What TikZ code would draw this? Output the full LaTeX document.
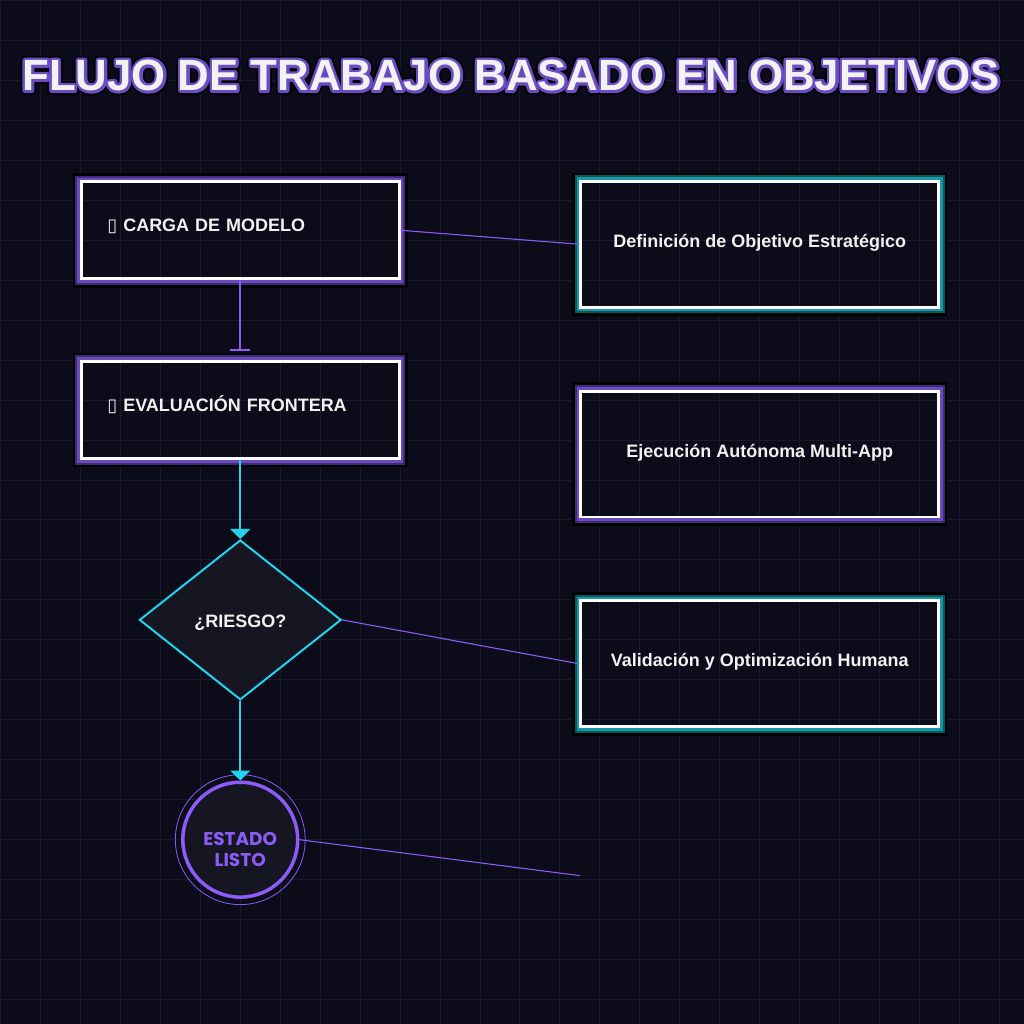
\documentclass[tikz,border=0pt]{standalone}
\usepackage{fontspec}
\setmainfont{Liberation Sans}
\newfontfamily\glyphfont{DejaVu Sans}
\newfontfamily\roundfont{Poppins}
\usetikzlibrary{positioning, calc, arrows.meta, shapes.geometric}
\definecolor{canvas}{HTML}{0B0B1A}
\definecolor{gridc}{HTML}{1A1A2D}
\definecolor{violet}{HTML}{8B5CF6}
\definecolor{cyanline}{HTML}{22D3EE}
\definecolor{glowv}{HTML}{6A4BBE}
\definecolor{glowvd}{HTML}{3E2B78}
\definecolor{glowt}{HTML}{1796A6}
\definecolor{glowtd}{HTML}{0C5660}
\definecolor{shapefill}{HTML}{161622}
\definecolor{textw}{HTML}{F2F2F2}
% outlined title text (stroke painted under the fill)
\newcommand{\outlinedtext}[1]{%
  \special{pdf:literal direct 1 j 1 J 1 Tr 9 w 0 0 0 RG}\rlap{#1}%
  \special{pdf:literal direct 1 Tr 5.5 w 0.42 0.30 0.76 RG}\rlap{#1}%
  \special{pdf:literal direct 0 Tr 0 j 0 J}#1}

\begin{document}
\begin{tikzpicture}[x=1pt, y=-1pt, every node/.style={font=\bfseries\fontsize{18}{21}\selectfont, text=textw}]
    \tikzstyle{block} = [draw=white, rectangle, line width=3pt, minimum width=318pt, minimum height=97pt, text width=266pt, align=left, text height=10pt, text depth=8pt]
    \tikzstyle{goal} = [draw=white, rectangle, line width=3pt, minimum width=358pt, minimum height=126pt, align=center, text height=12pt, text depth=6pt]
    \tikzstyle{decision} = [draw=cyanline, diamond, line width=2pt, fill=shapefill, minimum width=202pt, minimum height=160pt, inner sep=0pt, text height=15pt, text depth=0.5pt]
    \tikzstyle{terminal} = [draw=violet, circle, line width=3.5pt, fill=shapefill, minimum size=115pt, inner sep=0pt, align=center, text=violet, font=\roundfont\bfseries\fontsize{18.5}{21}\selectfont]
    \tikzstyle{flow} = [line width=2pt, draw=cyanline, -{Triangle[width=20pt, length=10pt]}]
    \tikzstyle{barrow} = [line width=2.2pt, draw=violet, -{Bar[width=20pt, line width=1.8pt]}]
    \tikzstyle{link} = [line width=1.1pt, draw=violet]

    % Background
    \fill[canvas] (0,0) rectangle (1024,1024);
    \draw[gridc, line width=1pt, step=40pt] (0,0) grid (1024,1024);
    \useasboundingbox (0,0) rectangle (1024,1024);

    % Title
    \node (title) at (511,75) {\fontsize{43.8}{44}\selectfont\outlinedtext{FLUJO DE TRABAJO BASADO EN OBJETIVOS}};

    % Left column
    \node (s1) [block] at (240,230) {{\glyphfont\mdseries\char"25AF}\ CARGA DE MODELO};
    \node (s2) [block, below of=s1, node distance=180pt] {{\glyphfont\mdseries\char"25AF}\ EVALUACIÓN FRONTERA};
    \node (s3) [decision, below of=s2, node distance=210pt] {¿RIESGO?};
    \node (s4) [terminal, below of=s3, node distance=220pt] {\rule{0pt}{33pt}ESTADO\\LISTO};
    \draw[violet, line width=0.8pt] (s4.center) circle[radius=65pt];

    % Right column
    \node (g1) [goal] at (760,244) {Definición de Objetivo Estratégico};
    \node (g2) [goal, below of=g1, node distance=210pt] {Ejecución Autónoma Multi-App};
    \node (g3) [goal, below of=g2, node distance=210pt] {Validación y Optimización Humana};

    % Glow frames
    \foreach \n/\c/\d in {s1/glowv/glowvd, s2/glowv/glowvd, g1/glowt/glowtd, g2/glowv/glowvd, g3/glowt/glowtd} {
        \draw[black, line width=2.6pt] ($(\n.north west)+(-6,-6)$) rectangle ($(\n.south east)+(6,6)$);
        \draw[\d, line width=2pt] ($(\n.north west)+(-3.7,-3.7)$) rectangle ($(\n.south east)+(3.7,3.7)$);
        \draw[\c, line width=2.7pt] ($(\n.north west)+(-1.35,-1.35)$) rectangle ($(\n.south east)+(1.35,1.35)$);
    }

    % Arrows
    \draw[barrow, shorten >=9pt] (s1) -- (s2);
    \draw[flow] (s2) -- (s3);
    \draw[flow] (s3) -- (s4);
    \draw[link] (s1.east) -- (g1.west);
    \draw[link] (s3.east) -- (g3.west);
    \coordinate (free) at (580,876);
    \draw[link] (s4.east) -- (free);
\end{tikzpicture}
\end{document}
